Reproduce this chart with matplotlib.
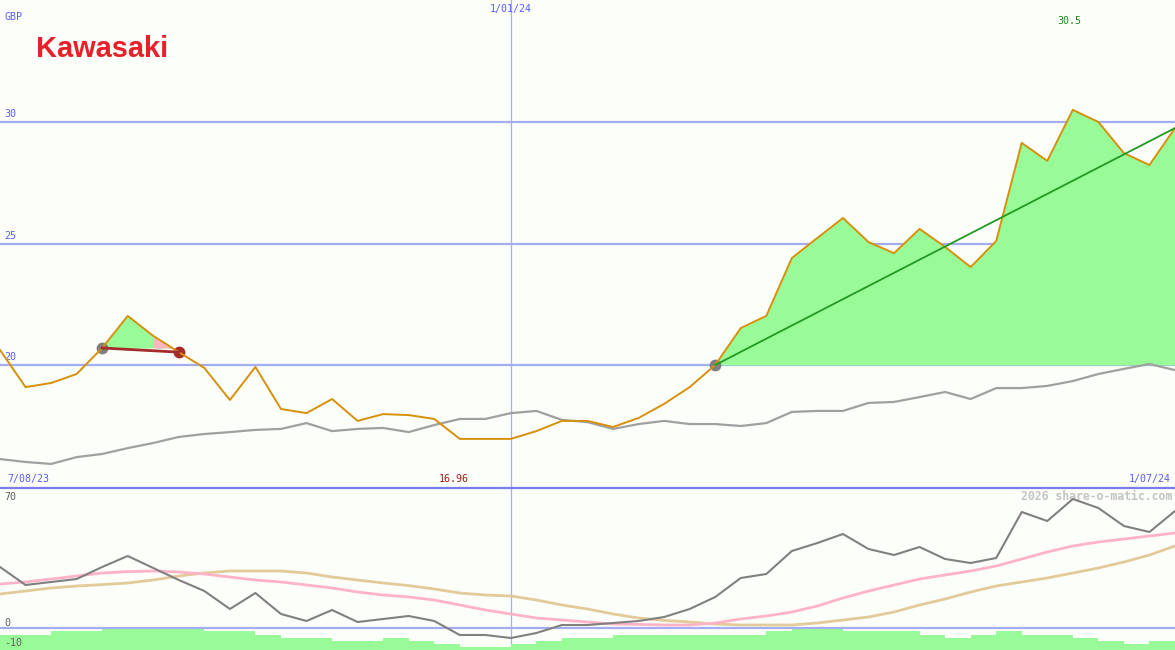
import numpy as np
import matplotlib
matplotlib.use("Agg")
import matplotlib.pyplot as plt
import matplotlib.transforms as mtransforms
from matplotlib.lines import Line2D

# weekly closes, GBP
price = [20.62, 19.09, 19.26, 19.63, 20.70, 22.02, 21.20, 20.53, 19.88, 18.56,
         19.92, 18.19, 18.02, 18.60, 17.70, 17.98, 17.94, 17.78, 16.96, 16.96,
         16.96, 17.28, 17.70, 17.70, 17.45, 17.82, 18.40, 19.09, 20.00, 21.52,
         22.02, 24.40, 25.23, 26.05, 25.06, 24.60, 25.60, 24.86, 24.03, 25.10,
         29.14, 28.40, 30.50, 30.00, 28.72, 28.23, 29.75]
# slow moving average (grey)
avg = [16.13, 16.01, 15.93, 16.21, 16.34, 16.58, 16.79, 17.04, 17.16, 17.24,
       17.33, 17.37, 17.61, 17.28, 17.37, 17.41, 17.24, 17.53, 17.78, 17.78,
       18.02, 18.11, 17.74, 17.65, 17.37, 17.57, 17.70, 17.57, 17.57, 17.49,
       17.61, 18.07, 18.11, 18.11, 18.44, 18.48, 18.68, 18.89, 18.60, 19.05,
       19.05, 19.14, 19.34, 19.63, 19.84, 20.04, 19.79]
# oscillator panel
osc = [30.5, 21.5, 23.0, 24.5, 30.5, 36.0, 30.0, 24.0, 18.5, 9.5,
       17.5, 7.0, 3.5, 9.0, 3.0, 4.5, 6.0, 3.5, -3.5, -3.5,
       -5.0, -2.5, 1.5, 1.5, 2.5, 3.5, 5.5, 9.5, 15.5, 25.0,
       27.0, 38.5, 42.5, 47.0, 39.5, 36.5, 40.5, 34.5, 32.5, 35.0,
       58.0, 53.5, 64.5, 60.0, 51.0, 48.0, 58.5]
osc_pink = [22.0, 23.0, 24.5, 26.0, 27.5, 28.2, 28.5, 28.0, 27.0, 25.5,
            24.0, 23.0, 21.5, 20.0, 18.0, 16.5, 15.5, 14.0, 11.5, 9.0,
            7.0, 5.0, 4.0, 3.0, 2.0, 1.8, 1.5, 1.5, 2.5, 4.5,
            6.0, 8.0, 11.0, 15.0, 18.5, 21.5, 24.5, 26.5, 28.5, 31.0,
            34.5, 38.0, 41.0, 43.0, 44.5, 46.0, 47.5]
osc_tan = [17.0, 18.5, 20.0, 21.0, 21.7, 22.5, 24.0, 26.0, 27.5, 28.5,
           28.5, 28.5, 27.5, 25.5, 24.0, 22.5, 21.2, 19.5, 17.5, 16.5,
           16.0, 14.0, 11.5, 9.5, 7.0, 5.0, 3.8, 3.0, 2.0, 1.5,
           1.5, 1.5, 2.5, 4.0, 5.5, 8.0, 11.5, 14.5, 18.0, 21.0,
           23.0, 25.0, 27.5, 30.0, 33.0, 36.5, 41.0]
# relative volume bars (percent of max)
vol = [70, 70, 85, 85, 100, 100, 100, 100, 85, 85,
       70, 55, 55, 40, 40, 55, 40, 27, 15, 15,
       27, 40, 55, 55, 70, 70, 70, 70, 70, 70,
       85, 100, 100, 85, 85, 85, 70, 55, 70, 85,
       70, 70, 55, 40, 27, 40]

grid_levels = [20, 25, 30]
date_labels = ["7/08/23", "1/01/24", "1/07/24"]
date_idx = [0, 20, 46]
peak_i, start_i, end_i = 4, 4, 7      # short dip signal
trend_i = 28                          # start of green trend
min_label, max_label = "16.96", "30.5"

idx = np.arange(len(price))
price = np.array(price)

bg = "#fcfefa"
blue_txt = "#5a5af2"
grid_c = "#a4acf2"
mono = "DejaVu Sans Mono"

fig = plt.figure(figsize=(11.75, 6.5), dpi=100, facecolor=bg)
ax = fig.add_axes([0, 163 / 650, 1, 487 / 650])
ax2 = fig.add_axes([0, 0, 1, 162 / 650])
for a in (ax, ax2):
    a.set_facecolor(bg)
    a.set_axis_off()
    a.set_xlim(0, 46)
    a.axvline(date_idx[1], color=grid_c, lw=0.9, zorder=1)

ax.set_ylim(14.98, 35.02)
ax2.set_ylim(-11, 70)

# main panel
for g in grid_levels:
    ax.axhline(g, color=grid_c, lw=1.6, zorder=1)

base = price[trend_i]
ax.fill_between(idx[trend_i:], price[trend_i:], base, color="#98fb98", lw=0, zorder=2)
b2 = price[start_i]
seg = slice(start_i, end_i + 1)
ax.fill_between(idx[seg], price[seg], b2, where=(idx[seg] <= 6) & (price[seg] >= b2),
                interpolate=True, color="#98fb98", lw=0, zorder=2)
ax.fill_between(idx[seg], price[seg], b2, where=(idx[seg] >= 6) & (price[seg] >= b2),
                interpolate=True, color="#ffb6c1", lw=0, zorder=2)

ax.plot(idx, avg, color="#a0a0a0", lw=1.6, zorder=3)
ax.plot(idx, price, color="#d6900a", lw=1.4, zorder=4)
ax.plot([start_i, end_i], [price[start_i], price[end_i]], color="#a52a2a", lw=2, zorder=5)
ax.plot([trend_i, 46], [price[trend_i], price[46]], color="#229922", lw=1.3, zorder=5)
ax.plot([start_i, trend_i], [price[start_i], price[trend_i]], "o", color="#808080",
        ms=8.5, mec="none", zorder=3)
ax.plot([end_i], [price[end_i]], "o", color="#a52a2a", ms=8.5, mec="none", zorder=3)

ytr = mtransforms.blended_transform_factory(ax.transAxes, ax.transData)
for g in grid_levels:
    ax.text(0.004, g + 0.12, str(g), transform=ytr, fontsize=7.2, family=mono,
            color=blue_txt, va="bottom", ha="left")
ax.text(0.004, 0.965, "GBP", transform=ax.transAxes, fontsize=7.2, family=mono,
        color=blue_txt, va="center", ha="left")
xtr = mtransforms.blended_transform_factory(ax.transData, ax.transAxes)
ax.text(date_idx[1], 0.981, date_labels[1], transform=xtr, fontsize=7.2, family=mono,
        color=blue_txt, va="center", ha="center")
ax.text(0.3, 0.016, date_labels[0], transform=xtr, fontsize=7.2, family=mono,
        color=blue_txt, va="center", ha="left")
ax.text(45.85, 0.016, date_labels[2], transform=xtr, fontsize=7.2, family=mono,
        color=blue_txt, va="center", ha="right")
ax.text(17.75, 0.016, min_label, transform=xtr, fontsize=7.2, family=mono,
        color="#a01818", va="center", ha="center")
ax.text(41.85, 0.957, max_label, transform=xtr, fontsize=7.2, family=mono,
        color="#1a8a1a", va="center", ha="center")
ax.text(36 / 1175, 1 - 57 / 487, "Kawasaki", transform=ax.transAxes,
        fontsize=20.9, family="Liberation Sans", weight="bold", color="#e8202a",
        va="baseline", ha="left")

# separator between the panels
fig.add_artist(Line2D([0, 1], [162.5 / 650, 162.5 / 650], color="#7b7bef", lw=1.6))

# oscillator panel
ax2.bar(idx[:len(vol)], np.array(vol) / 100 * 11, width=1, align="edge", bottom=-11,
        color="#98fb98", lw=0, zorder=1)
ax2.axhline(0, color=grid_c, lw=1.6, zorder=2)
ax2.plot(idx, osc_tan, color="#e2ca9a", lw=2.0, zorder=3)
ax2.plot(idx, osc_pink, color="#ffb3c6", lw=2.0, zorder=3)
ax2.plot(idx, osc, color="#808080", lw=1.5, zorder=4)

ax2.text(0.004, 0.945, "70", transform=ax2.transAxes, fontsize=7.2, family=mono,
         color="#606060", va="center", ha="left")
ax2.text(0.004, 0.165, "0", transform=ax2.transAxes, fontsize=7.2, family=mono,
         color="#606060", va="center", ha="left")
ax2.text(0.004, 0.045, "-10", transform=ax2.transAxes, fontsize=7.2, family=mono,
         color="#606060", va="center", ha="left")
ax2.text(0.9975, 0.95, "2026 share-o-matic.com", transform=ax2.transAxes,
         fontsize=8.3, family=mono, weight="bold", color="#c4c4c4",
         va="center", ha="right")

fig.savefig("out.png", dpi=100, facecolor=bg)
